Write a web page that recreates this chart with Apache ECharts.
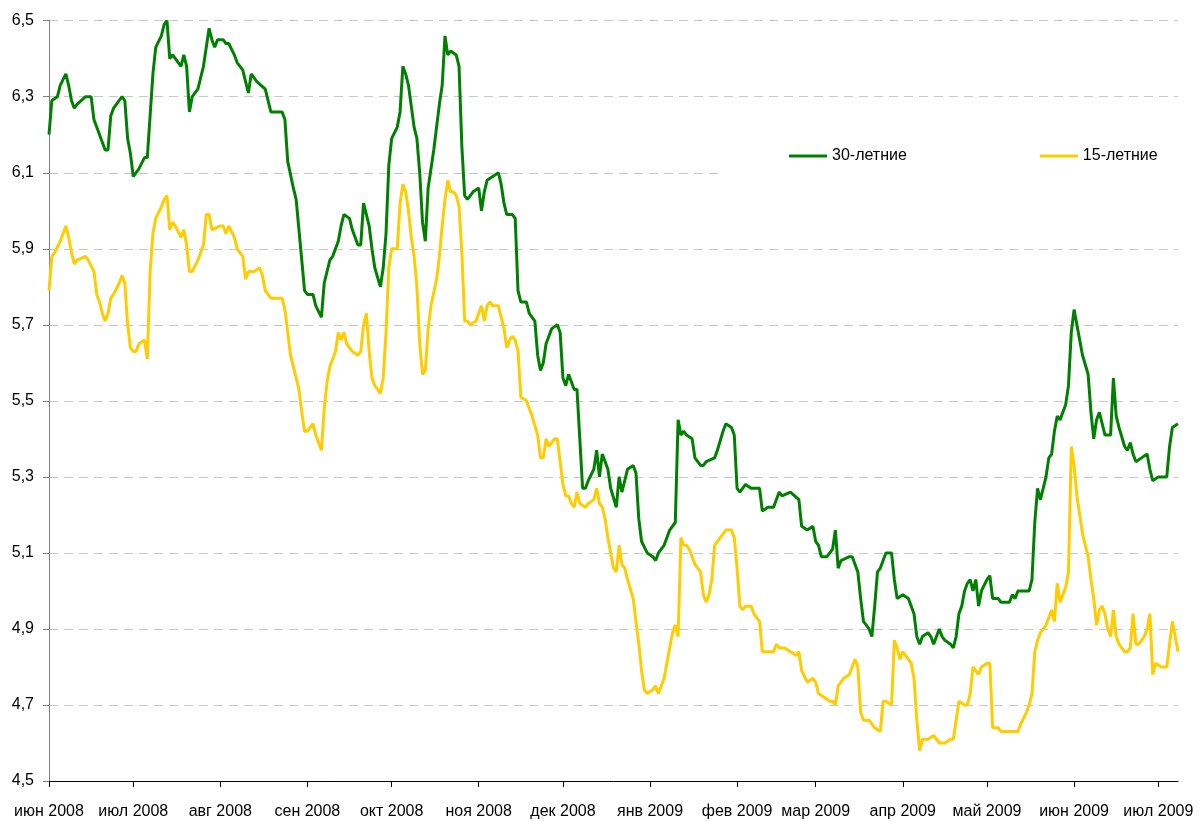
<!DOCTYPE html>
<html>
<head>
<meta charset="utf-8">
<script src="https://cdn.jsdelivr.net/npm/echarts@6/dist/echarts.min.js"></script>
<style>
html,body{margin:0;padding:0;background:#fff;}
#chart{width:1204px;height:821px;}
</style>
</head>
<body>
<div id="chart"></div>
<script>
// Dates are given as day offsets from the start date
const startDate = '2008-06-01';
const endOffset = 402; // last day shown on the axis

const seriesNames = ['30-летние', '15-летние'];

const monthTicks = ['2008-06-01','2008-07-01','2008-08-01','2008-09-01','2008-10-01','2008-11-01','2008-12-01',
  '2009-01-01','2009-02-01','2009-03-01','2009-04-01','2009-05-01','2009-06-01','2009-07-01'];
const monthLabels = ['июн 2008','июл 2008','авг 2008','сен 2008','окт 2008','ноя 2008','дек 2008',
  'янв 2009','фев 2009','мар 2009','апр 2009','май 2009','июн 2009','июл 2009'];

const yTickValues = [4.5, 4.7, 4.9, 5.1, 5.3, 5.5, 5.7, 5.9, 6.1, 6.3, 6.5];

// 30-year yields: [day offset, value]
const yield30 = [[0,6.20],[1,6.29],[3,6.30],[4,6.33],[6,6.36],[7,6.33],[8,6.29],[9,6.27],[10,6.28],[13,6.30],[15,6.30],[16,6.24],[18,6.20],[20,6.16],[21,6.16],[22,6.25],[23,6.27],[26,6.30],[27,6.29],[28,6.19],[29,6.15],[30,6.09],[32,6.11],[34,6.14],[35,6.14],[36,6.25],[37,6.36],[38,6.43],[40,6.46],[41,6.49],[42,6.50],[43,6.40],[44,6.41],[45,6.40],[47,6.38],[48,6.41],[49,6.38],[50,6.26],[51,6.30],[53,6.32],[54,6.35],[55,6.38],[57,6.48],[58,6.45],[59,6.43],[60,6.45],[62,6.45],[63,6.44],[64,6.44],[66,6.41],[67,6.39],[69,6.37],[70,6.34],[71,6.31],[72,6.36],[74,6.34],[77,6.32],[79,6.26],[83,6.26],[84,6.24],[85,6.13],[87,6.06],[88,6.03],[89,5.95],[90,5.87],[91,5.79],[92,5.78],[94,5.78],[95,5.75],[97,5.72],[98,5.81],[99,5.84],[100,5.87],[101,5.88],[103,5.92],[104,5.96],[105,5.99],[107,5.98],[108,5.95],[110,5.91],[111,5.91],[112,6.02],[114,5.96],[115,5.90],[116,5.85],[118,5.80],[119,5.85],[120,5.94],[121,6.12],[122,6.19],[124,6.22],[125,6.26],[126,6.38],[127,6.36],[128,6.33],[130,6.22],[131,6.19],[132,6.10],[133,5.97],[134,5.92],[135,6.06],[136,6.11],[137,6.16],[138,6.22],[139,6.28],[140,6.33],[141,6.46],[142,6.41],[143,6.42],[145,6.41],[146,6.38],[147,6.17],[148,6.04],[149,6.03],[151,6.05],[153,6.06],[154,6.00],[155,6.05],[156,6.08],[158,6.09],[160,6.10],[161,6.07],[162,6.02],[163,5.99],[165,5.99],[166,5.98],[167,5.79],[168,5.76],[170,5.76],[171,5.73],[173,5.71],[174,5.62],[175,5.58],[176,5.60],[177,5.65],[179,5.69],[181,5.70],[182,5.68],[183,5.56],[184,5.54],[185,5.57],[186,5.55],[187,5.53],[188,5.53],[189,5.40],[190,5.27],[191,5.27],[192,5.29],[194,5.32],[195,5.37],[196,5.30],[197,5.36],[199,5.32],[200,5.27],[202,5.22],[203,5.30],[204,5.26],[205,5.29],[206,5.32],[208,5.33],[209,5.31],[210,5.19],[211,5.13],[213,5.10],[215,5.09],[216,5.08],[217,5.10],[219,5.12],[220,5.14],[221,5.16],[223,5.18],[224,5.45],[225,5.41],[226,5.42],[227,5.41],[229,5.40],[230,5.35],[232,5.33],[233,5.33],[234,5.34],[237,5.35],[238,5.37],[240,5.42],[241,5.44],[243,5.43],[244,5.41],[245,5.27],[246,5.26],[248,5.28],[250,5.27],[253,5.27],[254,5.21],[256,5.22],[258,5.22],[260,5.26],[261,5.25],[264,5.26],[267,5.24],[268,5.17],[270,5.16],[272,5.17],[273,5.13],[274,5.12],[275,5.09],[277,5.09],[279,5.11],[280,5.16],[281,5.06],[282,5.08],[285,5.09],[286,5.09],[288,5.05],[289,4.98],[290,4.92],[291,4.91],[292,4.90],[293,4.88],[294,4.96],[295,5.05],[296,5.06],[297,5.08],[298,5.10],[300,5.10],[301,5.03],[302,4.98],[304,4.99],[306,4.98],[307,4.96],[308,4.94],[309,4.88],[310,4.86],[311,4.88],[313,4.89],[314,4.88],[315,4.86],[316,4.88],[317,4.90],[318,4.88],[319,4.87],[321,4.86],[322,4.85],[323,4.88],[324,4.94],[325,4.96],[326,5.00],[327,5.02],[328,5.03],[329,5.00],[330,5.03],[331,4.96],[332,5.00],[334,5.03],[335,5.04],[336,4.98],[338,4.98],[339,4.97],[342,4.97],[343,4.99],[344,4.98],[345,5.00],[347,5.00],[349,5.00],[350,5.03],[351,5.18],[352,5.27],[353,5.24],[354,5.27],[355,5.30],[356,5.35],[357,5.36],[358,5.42],[359,5.46],[360,5.45],[361,5.47],[362,5.49],[363,5.54],[364,5.68],[365,5.74],[366,5.70],[367,5.66],[368,5.62],[370,5.57],[371,5.47],[372,5.40],[373,5.45],[374,5.47],[375,5.44],[376,5.41],[378,5.41],[379,5.56],[380,5.46],[381,5.43],[383,5.38],[384,5.37],[385,5.39],[386,5.36],[387,5.34],[389,5.35],[391,5.36],[392,5.32],[393,5.29],[395,5.30],[396,5.30],[398,5.30],[399,5.38],[400,5.43],[402,5.44]];

// 15-year yields: [day offset, value]
const yield15 = [[0,5.79],[1,5.88],[2,5.89],[4,5.92],[6,5.96],[7,5.93],[8,5.89],[9,5.86],[10,5.87],[13,5.88],[14,5.87],[16,5.84],[17,5.78],[18,5.76],[19,5.73],[20,5.71],[21,5.73],[22,5.77],[23,5.78],[25,5.81],[26,5.83],[27,5.81],[28,5.70],[29,5.64],[30,5.63],[31,5.63],[32,5.65],[34,5.66],[35,5.61],[36,5.84],[37,5.94],[38,5.98],[40,6.01],[41,6.03],[42,6.04],[43,5.95],[44,5.97],[45,5.96],[47,5.93],[48,5.95],[49,5.91],[50,5.84],[51,5.84],[53,5.87],[54,5.89],[55,5.91],[56,5.99],[57,5.99],[58,5.95],[61,5.96],[62,5.96],[63,5.94],[64,5.96],[66,5.93],[67,5.90],[69,5.88],[70,5.82],[71,5.84],[73,5.84],[75,5.85],[76,5.83],[77,5.79],[79,5.77],[83,5.77],[84,5.74],[85,5.68],[86,5.62],[87,5.59],[89,5.53],[90,5.47],[91,5.42],[92,5.42],[94,5.44],[95,5.41],[96,5.39],[97,5.37],[98,5.48],[99,5.55],[100,5.59],[101,5.61],[102,5.63],[103,5.68],[104,5.66],[105,5.68],[106,5.65],[108,5.63],[110,5.62],[111,5.63],[112,5.70],[113,5.73],[114,5.63],[115,5.56],[116,5.54],[118,5.52],[119,5.56],[120,5.68],[121,5.85],[122,5.90],[124,5.90],[125,6.02],[126,6.07],[127,6.05],[128,6.00],[129,5.93],[130,5.88],[131,5.80],[132,5.65],[133,5.57],[134,5.58],[135,5.69],[136,5.75],[138,5.82],[139,5.88],[140,5.96],[141,6.03],[142,6.08],[143,6.05],[144,6.05],[145,6.04],[146,6.01],[147,5.89],[148,5.71],[149,5.71],[150,5.70],[152,5.71],[153,5.73],[154,5.75],[155,5.71],[156,5.75],[157,5.76],[158,5.75],[160,5.75],[161,5.72],[162,5.69],[163,5.64],[164,5.66],[165,5.67],[166,5.66],[167,5.63],[168,5.51],[170,5.50],[172,5.46],[174,5.41],[175,5.35],[176,5.35],[177,5.40],[178,5.38],[180,5.40],[181,5.40],[182,5.34],[183,5.28],[184,5.25],[185,5.25],[186,5.23],[187,5.22],[188,5.26],[189,5.23],[191,5.22],[192,5.23],[194,5.24],[195,5.27],[196,5.23],[197,5.22],[198,5.19],[199,5.14],[200,5.10],[201,5.06],[202,5.05],[203,5.12],[204,5.07],[205,5.06],[206,5.03],[208,4.98],[209,4.92],[210,4.86],[211,4.79],[212,4.74],[213,4.73],[215,4.74],[216,4.75],[217,4.73],[219,4.77],[220,4.81],[221,4.85],[222,4.89],[223,4.91],[224,4.88],[225,5.14],[226,5.12],[227,5.12],[228,5.11],[229,5.09],[230,5.07],[231,5.06],[232,5.05],[233,4.99],[234,4.97],[235,4.99],[236,5.03],[237,5.12],[238,5.13],[240,5.15],[241,5.16],[243,5.16],[244,5.14],[245,5.06],[246,4.96],[247,4.95],[248,4.96],[250,4.96],[251,4.94],[252,4.93],[253,4.92],[254,4.84],[256,4.84],[258,4.84],[259,4.86],[260,4.85],[262,4.85],[264,4.84],[266,4.83],[267,4.84],[268,4.79],[270,4.76],[272,4.77],[273,4.76],[274,4.73],[276,4.72],[278,4.71],[279,4.71],[280,4.70],[281,4.75],[283,4.77],[285,4.78],[286,4.80],[287,4.82],[288,4.80],[289,4.68],[290,4.66],[292,4.66],[294,4.64],[296,4.63],[297,4.71],[298,4.71],[300,4.70],[301,4.87],[302,4.85],[303,4.82],[304,4.84],[306,4.82],[307,4.81],[308,4.77],[309,4.66],[310,4.58],[311,4.61],[313,4.61],[315,4.62],[317,4.60],[319,4.60],[321,4.61],[322,4.61],[323,4.66],[324,4.71],[326,4.70],[327,4.70],[328,4.73],[329,4.80],[330,4.79],[331,4.78],[332,4.80],[334,4.81],[335,4.81],[336,4.64],[338,4.64],[339,4.63],[341,4.63],[345,4.63],[346,4.65],[348,4.68],[349,4.70],[350,4.73],[351,4.84],[352,4.87],[353,4.89],[355,4.91],[356,4.93],[357,4.95],[358,4.92],[359,5.02],[360,4.97],[361,4.99],[362,5.01],[363,5.05],[364,5.38],[365,5.33],[366,5.25],[367,5.20],[368,5.15],[369,5.12],[370,5.09],[371,5.03],[372,4.98],[373,4.91],[374,4.95],[375,4.96],[376,4.94],[377,4.90],[378,4.88],[379,4.95],[380,4.88],[381,4.86],[383,4.84],[384,4.84],[385,4.85],[386,4.94],[387,4.86],[388,4.86],[390,4.88],[391,4.90],[392,4.94],[393,4.78],[394,4.81],[396,4.80],[397,4.80],[398,4.80],[399,4.86],[400,4.92],[401,4.88],[402,4.84]];

const DAY = 86400000;
function toMs(s) { const p = s.split('-').map(Number); return Date.UTC(p[0], p[1] - 1, p[2]); }
const startMs = toMs(startDate);
// month-start positions in days since the start date
const tickDays = monthTicks.map(s => Math.round((toMs(s) - startMs) / DAY));

const FONT = "'Liberation Sans', Arial, sans-serif";

const chart = echarts.init(document.getElementById('chart'), null, { renderer: 'canvas' });
chart.setOption({
  animation: false,
  backgroundColor: '#ffffff',
  grid: { left: 49, right: 26, top: 20.7, bottom: 40, containLabel: false, outerBoundsMode: 'none' },
  legend: {
    data: seriesNames,
    orient: 'horizontal',
    left: 718, top: 120,
    padding: [28, 24, 20, 71],
    backgroundColor: '#ffffff',
    itemGap: 133,
    icon: 'rect',
    itemWidth: 38, itemHeight: 3,
    textStyle: { fontFamily: FONT, fontSize: 16, color: '#000' }
  },
  xAxis: {
    type: 'value',
    min: 0,
    max: endOffset,
    axisLine: { show: true, onZero: false, lineStyle: { color: '#000', width: 1 } },
    axisTick: { show: true, length: 6, inside: false, customValues: tickDays, lineStyle: { color: '#000' } },
    axisLabel: {
      show: true, margin: 23, customValues: tickDays, hideOverlap: false,
      showMinLabel: true, showMaxLabel: true,
      fontFamily: FONT, fontSize: 16, color: '#000',
      formatter: function (v) {
        const i = tickDays.indexOf(Math.round(v));
        return i >= 0 ? monthLabels[i] : '';
      }
    },
    splitLine: { show: false },
    minorTick: { show: false }
  },
  yAxis: {
    type: 'value',
    min: yTickValues[0], max: yTickValues[yTickValues.length - 1], interval: 0.2,
    axisLine: { show: true, lineStyle: { color: '#808080', width: 1 } },
    axisTick: { show: true, length: 6, lineStyle: { color: '#808080' } },
    axisLabel: {
      margin: 15, fontFamily: FONT, fontSize: 16, color: '#000',
      formatter: v => v.toFixed(1).replace('.', ',')
    },
    splitLine: { show: true, lineStyle: { color: '#c8c8c8', type: [9, 6], width: 1 } }
  },
  series: [
    { name: seriesNames[0], type: 'line', data: yield30, showSymbol: false, symbol: 'none',
      lineStyle: { color: '#008000', width: 3 }, itemStyle: { color: '#008000' }, z: 3 },
    { name: seriesNames[1], type: 'line', data: yield15, showSymbol: false, symbol: 'none',
      lineStyle: { color: '#FFCC00', width: 3 }, itemStyle: { color: '#FFCC00' }, z: 2 }
  ]
});
</script>
</body>
</html>
